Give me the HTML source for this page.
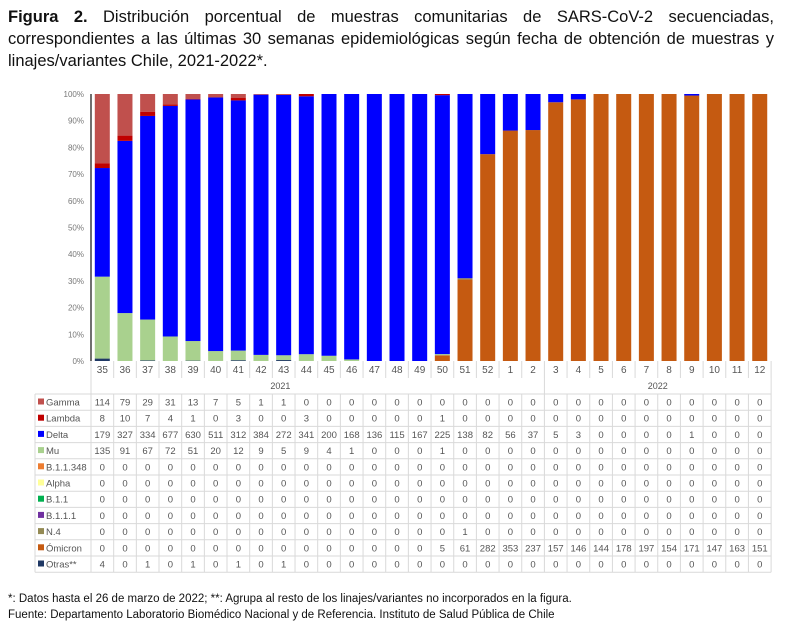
<!DOCTYPE html>
<html><head><meta charset="utf-8"><style>
body{margin:0;background:#fff;width:800px;height:632px;overflow:hidden;font-family:"Liberation Sans",sans-serif}
#t{position:absolute;left:8px;top:6px;width:766px;font-size:16.5px;line-height:22px;text-align:justify;color:#111}
#f{position:absolute;left:8px;top:591px;font-size:11.5px;line-height:16px;color:#111}
svg{position:absolute;left:0;top:0}
</style></head><body>
<div id="t"><b>Figura 2.</b> Distribución porcentual de muestras comunitarias de SARS-CoV-2 secuenciadas, correspondientes a las últimas 30 semanas epidemiológicas según fecha de obtención de muestras y linajes/variantes Chile, 2021-2022*.</div>
<svg id="s" width="800" height="632"></svg>
<div id="f">*: Datos hasta el 26 de marzo de 2022; **: Agrupa al resto de los linajes/variantes no incorporados en la figura.<br>Fuente: Departamento Laboratorio Biomédico Nacional y de Referencia. Instituto de Salud Pública de Chile</div>
<script>
const z=Array(30).fill(0);
const weeks=[35,36,37,38,39,40,41,42,43,44,45,46,47,48,49,50,51,52,1,2,3,4,5,6,7,8,9,10,11,12];
const S=[
["Gamma","#c0504d",[114,79,29,31,13,7,5,1,1,0,0,0,0,0,0,0,0,0,0,0,0,0,0,0,0,0,0,0,0,0]],
["Lambda","#c00000",[8,10,7,4,1,0,3,0,0,3,0,0,0,0,0,1,0,0,0,0,0,0,0,0,0,0,0,0,0,0]],
["Delta","#0000ff",[179,327,334,677,630,511,312,384,272,341,200,168,136,115,167,225,138,82,56,37,5,3,0,0,0,0,1,0,0,0]],
["Mu","#a9d18e",[135,91,67,72,51,20,12,9,5,9,4,1,0,0,0,1,0,0,0,0,0,0,0,0,0,0,0,0,0,0]],
["B.1.1.348","#ed7d31",z],["Alpha","#ffff99",z],["B.1.1","#00b050",z],["B.1.1.1","#7030a0",z],
["N.4","#948a54",[0,0,0,0,0,0,0,0,0,0,0,0,0,0,0,0,1,0,0,0,0,0,0,0,0,0,0,0,0,0]],
["Ómicron","#c55a11",[0,0,0,0,0,0,0,0,0,0,0,0,0,0,0,5,61,282,353,237,157,146,144,178,197,154,171,147,163,151]],
["Otras**","#1f3864",[4,0,1,0,1,0,1,0,1,0,0,0,0,0,0,0,0,0,0,0,0,0,0,0,0,0,0,0,0,0]]];
let h='';const X0=91,W=22.67,T=94,B=361,H=B-T;
for(let i=0;i<=10;i++){const y=B-H*i/10;h+=`<text x="84" y="${y+3}" font-size="8" fill="#777" text-anchor="end">${i*10}%</text>`;}
for(let c=0;c<30;c++){let tot=0;S.forEach(s=>tot+=s[2][c]);let y=B;const x=X0+c*W+3.8;
 for(let k=S.length-1;k>=0;k--){const v=S[k][2][c];if(!v)continue;const hh=H*v/tot;h+=`<rect x="${x}" y="${y-hh}" width="15" height="${hh}" fill="${S[k][1]}"/>`;y-=hh;}}
h+=`<line x1="91" y1="${T}" x2="91" y2="${B}" stroke="#222" stroke-width="1.3"/>`;
const R0=394,RH=16.2,bot=R0+RH*11,L=35,R=X0+30*W,g='#d9d9d9';
for(let c=0;c<=30;c++){const x=X0+c*W;h+=`<line x1="${x}" y1="361" x2="${x}" y2="${bot}" stroke="${g}"/>`;}
h+=`<line x1="${L}" y1="${R0}" x2="${L}" y2="${bot}" stroke="${g}"/>`;
for(let r=0;r<=11;r++){const y=R0+r*RH;h+=`<line x1="${L}" y1="${y}" x2="${R}" y2="${y}" stroke="${g}"/>`;}
h+=`<rect x="${X0+0.5}" y="378" width="${W*30-1}" height="15.5" fill="#fff"/>`;
h+=`<line x1="${X0+20*W}" y1="378" x2="${X0+20*W}" y2="394" stroke="${g}"/>`;
weeks.forEach((w,c)=>h+=`<text x="${X0+c*W+W/2}" y="373" font-size="10" fill="#555" text-anchor="middle">${w}</text>`);
h+=`<text x="${X0+W*8+8}" y="389" font-size="9" fill="#555" text-anchor="middle">2021</text>`;
h+=`<text x="${X0+W*25}" y="389" font-size="9" fill="#555" text-anchor="middle">2022</text>`;
S.forEach((s,r)=>{const y=R0+r*RH+11.5;
 h+=`<rect x="38" y="${y-7}" width="6" height="6" fill="${s[1]}"/><text x="46" y="${y}" font-size="9.5" fill="#555">${s[0]}</text>`;
 s[2].forEach((v,c)=>h+=`<text x="${X0+c*W+W/2}" y="${y}" font-size="9.5" fill="#555" text-anchor="middle">${v}</text>`);});
document.getElementById('s').innerHTML=h;
</script>
</body></html>
